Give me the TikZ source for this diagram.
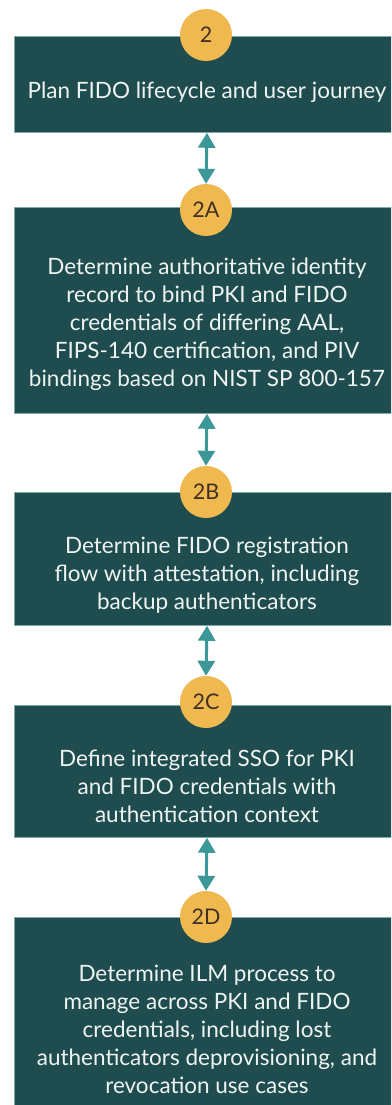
\documentclass[tikz,border=0pt]{standalone}
\usepackage{fontspec}
\setmainfont{Lato}
\usetikzlibrary{arrows.meta}
\definecolor{boxfill}{HTML}{1F4C4E}
\definecolor{boxline}{HTML}{7FA8A8}
\definecolor{badgefill}{HTML}{F0B950}
\definecolor{badgetxt}{HTML}{3F3024}
\definecolor{arrowc}{HTML}{3C9898}
\definecolor{stagetxt}{HTML}{EEF4F2}
\begin{document}
\begin{tikzpicture}[x=1pt,y=-1pt,
 stagebox/.style={draw=boxline, line width=0.8pt, fill=boxfill, minimum width=386pt, inner sep=0pt, anchor=north},
 stagetext/.style={text=stagetxt, align=center, font=\fontsize{22.5}{28}\selectfont, inner sep=0pt},
 badgenode/.style={circle, fill=badgefill, minimum size=52pt, inner sep=0pt, text=badgetxt, font=\fontsize{21.5}{24}\selectfont},
 link/.style={draw=arrowc, line width=3pt, {Triangle[width=17pt,length=15pt]}-{Triangle[width=17pt,length=15pt]}}]
\useasboundingbox (0,0) rectangle (391,1105);
\clip (0,0) rectangle (391,1105);
\fill[white] (0,0) rectangle (391,1105);
% boxes
\node[stagebox, minimum height=96pt] (b1) at (207,36) {};
\node[stagebox, minimum height=206pt] (b2a) at (207,207) {};
\node[stagebox, minimum height=133pt] (b2b) at (207,492) {};
\node[stagebox, minimum height=132pt] (b2c) at (207,705) {};
\node[stagebox, minimum height=220pt] (b2d) at (207,917) {};
% texts
\node[stagetext] (t1) at (207,92) {Plan FIDO lifecycle and user journey};
\node[stagetext] (t2a) at (207,324) {Determine authoritative identity\\record to bind PKI and FIDO\\credentials of differing AAL,\\FIPS-140 certification, and PIV\\bindings based on NIST SP 800-157};
\node[stagetext] (t2b) at (207,575) {Determine FIDO registration\\flow with attestation, including\\backup authenticators};
\node[stagetext] (t2c) at (207,786) {Define integrated SSO for PKI\\and FIDO credentials with\\authentication context};
\node[stagetext] (t2d) at (207,1029) {Determine ILM process to\\manage across PKI and FIDO\\credentials, including lost\\authenticators deprovisioning, and\\revocation use cases};
% badges
\node[badgenode] (n1) at (206,35) {2};
\node[badgenode] (n2a) at (206,210) {2A};
\node[badgenode] (n2b) at (206,492) {2B};
\node[badgenode] (n2c) at (206,702) {2C};
\node[badgenode] (n2d) at (206,917) {2D};
% connectors
\draw[link] (b1.south) -- (n2a.north);
\draw[link] (b2a.south) -- (n2b.north);
\draw[link] (b2b.south) -- (n2c.north);
\draw[link] (b2c.south) -- (n2d.north);
\end{tikzpicture}
\end{document}
